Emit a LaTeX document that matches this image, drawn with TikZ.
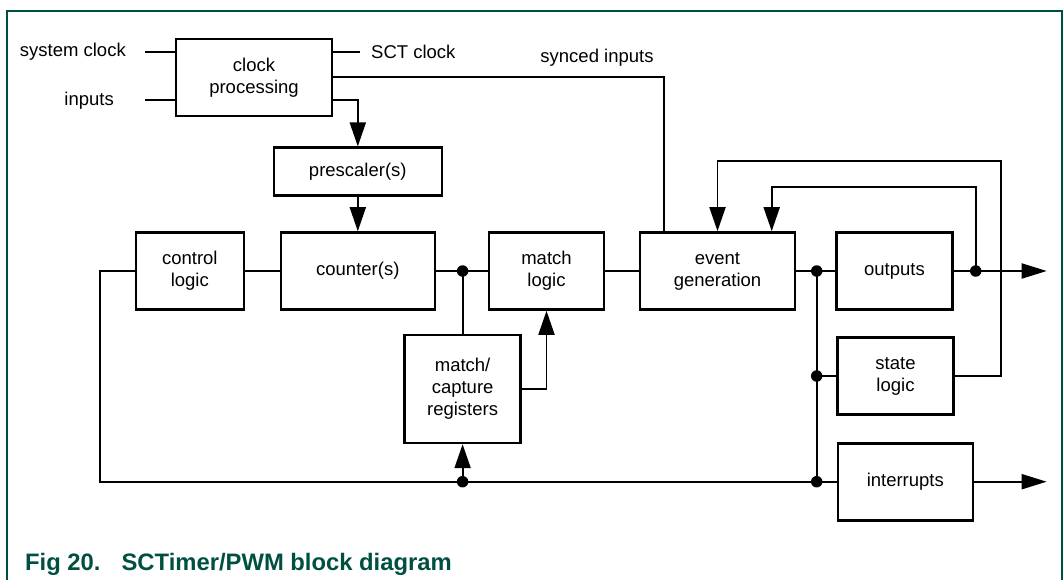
\documentclass[tikz,border=0pt]{standalone}
\usepackage{fontspec}
\setmainfont{Liberation Sans}
\usetikzlibrary{arrows.meta}
\definecolor{figgreen}{HTML}{005042}
\newcommand\blocktext{\fontsize{18.5}{22}\selectfont}
\newcommand\captext{\fontsize{23.8}{26}\selectfont\bfseries}

\tikzset{
  block/.style={draw, line width=2.6pt, minimum width=#1, minimum height=77pt,
    inner sep=0pt, align=center, font=\blocktext},
  sigtext/.style={inner sep=0pt, font=\blocktext},
  wire/.style={line width=1.9pt},
  flow/.style={wire, -{Triangle[length=24pt,width=16pt]}},
  junction/.style={circle, fill, inner sep=0pt, minimum size=11.5pt},
}

\begin{document}
\begin{tikzpicture}[x=1pt, y=-1pt]
    \useasboundingbox (0,0) rectangle (1063,580);
    \draw [figgreen, line width=2pt] (7,580) -- (7,11) -- (1061.7,11) -- (1061.7,580);

    % blocks
    \node [block=156pt] (clk) at (254,77.4) {clock\\processing};
    \node [block=168pt, minimum height=48pt] (presc) at (357.8,171.7) {prescaler(s)};
    \node [block=108pt] (ctrl) at (189.8,271) {control\\logic};
    \node [block=154pt] (cnt) at (357.8,271) {counter(s)};
    \node [block=115pt] (ml) at (546.5,271) {match\\logic};
    \node [block=116pt, minimum height=108pt] (mcap) at (462.6,388.9) {match/\\capture\\registers};
    \node [block=155pt] (ev) at (717.5,271) {event\\generation};
    \node [block=116pt] (outp) at (894.5,271) {outputs};
    \node [block=116pt] (st) at (895.5,376) {state\\logic};
    \node [block=135pt] (intr) at (905.3,481.7) {interrupts};

    % clock inputs and outputs
    \coordinate (sysin) at (145,52);
    \coordinate (inin) at (145,100);
    \coordinate (sctout) at (360,52);
    \coordinate (syncin) at (664,77.4);
    \node [sigtext, anchor=east] (syslbl) at (126,52) {system clock};
    \node [sigtext, anchor=east] (inlbl) at (114,101) {inputs};
    \node [sigtext, anchor=west] (sctlbl) at (371,52) {SCT clock};
    \node [sigtext] (synclbl) at (597,58) {synced inputs};
    \draw [wire] (sysin) -- (sysin -| clk.west);
    \draw [wire] (inin) -- (inin -| clk.west);
    \draw [wire] (clk.east |- sctout) -- (sctout);
    \draw [wire] (clk.east) -- (syncin) -- (syncin |- ev.north);
    \draw [flow] (clk.east |- 0,100) -| (presc.north);
    \draw [flow] (presc.south) -- (cnt.north);

    % counter and match path
    \draw [wire] (ctrl.east) -- (cnt.west);
    \draw [wire] (cnt.east) -- (ml.west);
    \node [junction] (jcnt) at (mcap.north |- cnt.east) {};
    \draw [wire] (jcnt.center) -- (mcap.north);
    \draw [flow] (mcap.east) -| (ml.south);
    \draw [wire] (ml.east) -- (ev.west);

    % event bus
    \draw [wire] (ev.east) -- (outp.west);
    \node [junction] (jbus) at (816.7,271) {};
    \node [junction] (jst) at (jbus |- st.west) {};
    \node [junction] (jint) at (jbus |- intr.west) {};
    \draw [wire] (jbus.center) -- (jint.center);
    \draw [wire] (jst.center) -- (st.west);

    % feedback from control logic
    \coordinate (fbl) at (99.6,481.7);
    \draw [wire] (ctrl.west) -| (fbl) -- (intr.west);
    \node [junction] (jfb) at (mcap.south |- intr.west) {};
    \draw [flow] (jfb.center) -- (mcap.south);

    % outputs and loops back to event generation
    \coordinate (outend) at (1046.7,271);
    \coordinate (intend) at (1046.7,481.7);
    \draw [flow, -{Triangle[length=25pt,width=15pt]}] (outp.east) -- (outend);
    \draw [flow, -{Triangle[length=25pt,width=15pt]}] (intr.east) -- (intend);
    \node [junction] (jout) at (975.7,271) {};
    \coordinate (loopin) at (771.7,187.3);
    \draw [flow] (jout.center) |- (loopin) -- (loopin |- ev.north);
    \coordinate (loopst) at (1001,160.7);
    \draw [flow] (st.east) -| (loopst) -| (ev.north);

    \node [anchor=base west, inner sep=0pt, text=figgreen, font=\captext] (caption) at (25,570)
      {Fig 20.\hspace{21pt}SCTimer/PWM block diagram};
\end{tikzpicture}
\end{document}
